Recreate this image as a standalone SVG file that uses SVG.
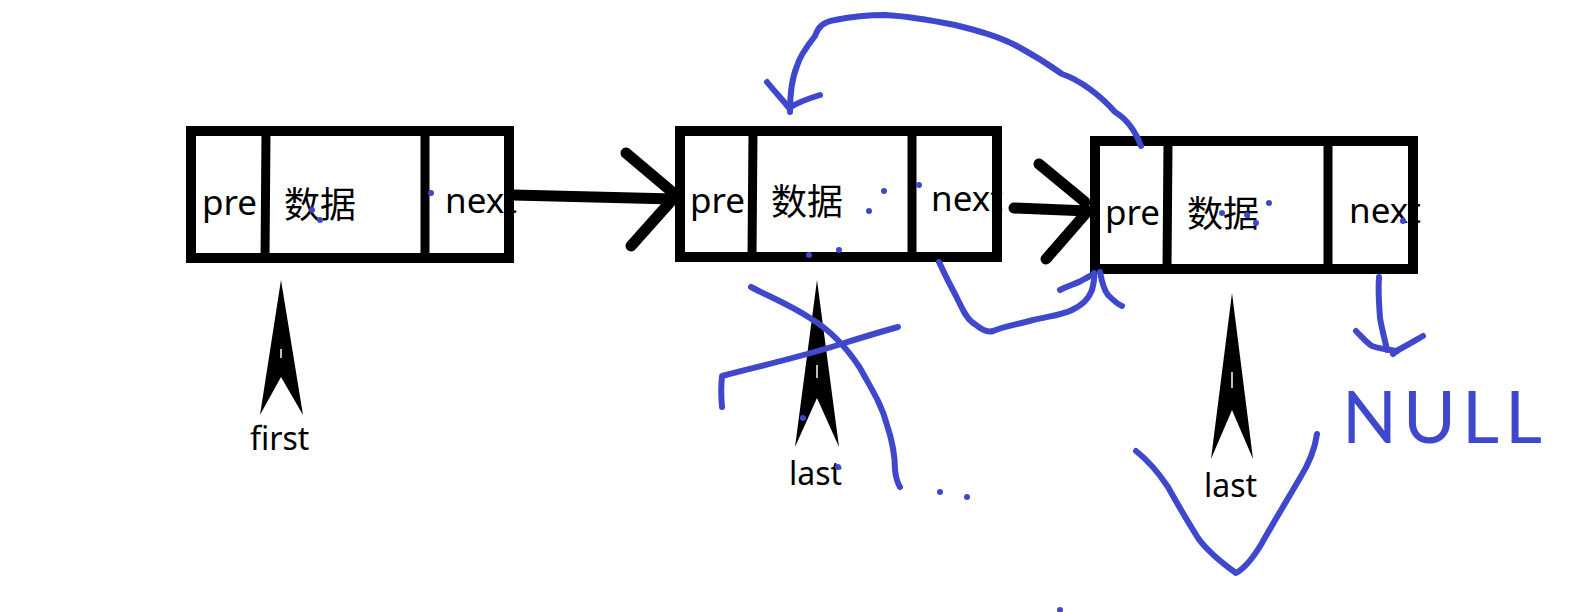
<svg xmlns="http://www.w3.org/2000/svg" width="1593" height="612" viewBox="0 0 1593 612">
<style>
.lbl{font-family:"Noto Sans","Noto Sans CJK SC",sans-serif;font-size:35px;fill:#000}
.cjk{font-family:"Noto Sans CJK SC","Noto Sans",sans-serif;font-size:36px;fill:#000}
.ptr{font-family:"Noto Sans",sans-serif;font-size:32px;fill:#000}
.box{fill:none;stroke:#000;stroke-width:10}
.div{stroke:#000;stroke-width:9}
.conn{fill:none;stroke:#000;stroke-width:11;stroke-linecap:round;stroke-linejoin:round}
.ink{fill:none;stroke:#3f48cc;stroke-width:6;stroke-linecap:round;stroke-linejoin:round}
.dot{fill:#3f48cc}
</style>
<rect width="1593" height="612" fill="#fff"/>
<g id="node1">
<text class="lbl" x="202" y="215">pre</text>
<text class="cjk" x="284" y="218">数据</text>
<text class="lbl" x="445" y="213">next</text>
<rect class="box" x="191" y="131" width="318" height="127"/>
<line class="div" x1="266" y1="132" x2="265" y2="258"/>
<line class="div" x1="425" y1="132" x2="425" y2="258"/>
</g>
<g id="node2">
<text class="lbl" x="690" y="213">pre</text>
<text class="cjk" x="771" y="215">数据</text>
<text class="lbl" x="931" y="211">next</text>
<rect class="box" x="680" y="131" width="317" height="126"/>
<line class="div" x1="753" y1="132" x2="752" y2="257"/>
<line class="div" x1="912" y1="132" x2="912" y2="257"/>
</g>
<g id="node3">
<text class="lbl" x="1105" y="225">pre</text>
<text class="cjk" x="1187" y="227">数据</text>
<text class="lbl" x="1349" y="223">next</text>
<rect class="box" x="1095" y="141" width="318" height="128"/>
<line class="div" x1="1168" y1="142" x2="1167" y2="269"/>
<line class="div" x1="1328" y1="142" x2="1328" y2="269"/>
</g>
<g id="first">
<polygon points="281,280 260,415 281,377 303,415" fill="#000"/>
<line x1="281" y1="349" x2="281" y2="358" stroke="#fff" stroke-width="1.5"/>
<text class="ptr" x="250" y="450">first</text>
</g>
<g id="last1">
<polygon points="817,280 795,447 817,398 839,447" fill="#000"/>
<line x1="817" y1="365" x2="817" y2="378" stroke="#fff" stroke-width="1.5"/>
<text class="ptr" x="789" y="485">last</text>
</g>
<g id="last2">
<polygon points="1232,293 1211,459 1232,410 1253,459" fill="#000"/>
<line x1="1232" y1="372" x2="1232" y2="388" stroke="#fff" stroke-width="1.5"/>
<text class="ptr" x="1204" y="497">last</text>
</g>
<g id="connectors">
<path class="conn" d="M513,195 L674,199"/>
<path class="conn" d="M626,153 L671,191 M631,246 L672,200"/>
<path class="conn" d="M1014,208 L1088,211"/>
<path class="conn" d="M1039,164 L1085,202 M1046,259 L1087,212"/>
</g>
<g id="ink">
<path class="ink" d="M1141,146 C1135,130 1125,118 1115,112 C1100,95 1080,80 1062,74 C1045,62 1030,53 1015,45 C995,35 975,30 955,25 C930,20 905,16 885,15 C865,15 850,17 835,20 C822,22 818,28 815,36 C808,45 800,55 797,66 C792,78 790,95 790,112"/>
<path class="ink" d="M767,82 C775,92 783,100 789,108 C797,103 810,98 820,95"/>
<path class="ink" d="M939,262 C945,275 950,285 956,296 C962,308 966,318 972,322 C980,328 985,333 993,331 C1005,326 1015,325 1033,320 C1050,316 1062,315 1072,310 C1082,305 1088,300 1092,290 C1094,282 1095,277 1094,273"/>
<path class="ink" d="M1060,290 C1068,286 1075,284 1081,281 C1086,278 1089,276 1093,275"/>
<path class="ink" d="M1100,272 C1102,283 1104,290 1108,295 C1113,300 1117,304 1122,306"/>
<path class="ink" d="M751,287 C770,297 790,305 810,318 C830,330 845,345 860,368 C872,390 882,405 887,425 C892,440 895,455 895,470 C896,478 898,484 900,487"/>
<path class="ink" d="M722,407 C721,396 721,385 722,376 C760,366 800,357 838,345 C860,338 880,332 898,327"/>
<path class="ink" d="M1136,451 C1150,462 1160,475 1168,487 C1178,505 1188,522 1198,538 C1208,552 1222,563 1236,573 C1245,568 1252,560 1262,543 C1275,520 1290,495 1300,478 C1310,462 1315,448 1317,434"/>
<path class="ink" d="M1379,277 C1378,290 1379,305 1380,318 C1382,330 1385,340 1387,350"/>
<path class="ink" d="M1356,331 C1362,337 1367,343 1372,346 C1380,349 1390,350 1397,351"/>
<path class="ink" d="M1393,354 C1396,352 1398,350 1400,349 C1408,345 1416,340 1423,336"/>
<circle class="dot" cx="431" cy="193" r="3"/>
<circle class="dot" cx="312" cy="210" r="3"/>
<circle class="dot" cx="320" cy="220" r="3"/>
<circle class="dot" cx="884" cy="191" r="3"/>
<circle class="dot" cx="919" cy="185" r="3"/>
<circle class="dot" cx="869" cy="211" r="3"/>
<circle class="dot" cx="809" cy="255" r="3"/>
<circle class="dot" cx="839" cy="250" r="3"/>
<circle class="dot" cx="1269" cy="203" r="3"/>
<circle class="dot" cx="1222" cy="213" r="3"/>
<circle class="dot" cx="1247" cy="215" r="3"/>
<circle class="dot" cx="1256" cy="223" r="3"/>
<circle class="dot" cx="1403" cy="221" r="3"/>
<circle class="dot" cx="803" cy="418" r="3"/>
<circle class="dot" cx="838" cy="467" r="3"/>
<circle class="dot" cx="940" cy="492" r="3"/>
<circle class="dot" cx="967" cy="497" r="3"/>
<circle class="dot" cx="1060" cy="610" r="3"/>
<text x="1342" y="443" font-family="Lato,'Noto Sans',sans-serif" font-weight="400" font-size="72" letter-spacing="6" fill="#3f48cc">NULL</text>
</g>
</svg>
